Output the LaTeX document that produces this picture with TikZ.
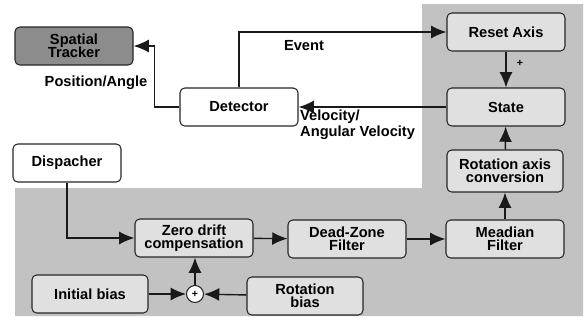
\documentclass[tikz,border=0pt]{standalone}
\usepackage{fontspec}
\setmainfont{Liberation Sans}
\usetikzlibrary{arrows.meta}
\tikzset{
  blk/.style={draw=black!85, line width=0.9pt, rounded corners=4pt, align=center,
    minimum width=118*0.03cm, minimum height=38*0.03cm, inner sep=1pt,
    font=\fontsize{12.5}{13}\selectfont\bfseries},
  onwhite/.style={blk, fill=white},
  ongray/.style={blk, fill=black!12},
  lbl/.style={font=\fontsize{12.5}{13}\selectfont\bfseries, inner sep=0pt},
  flow/.style={-{Latex[length=13pt,width=11pt]}, line width=1.2pt, draw=black!90}
}
\begin{document}
\begin{tikzpicture}[x=0.03cm, y=-0.03cm]
    \useasboundingbox (0,0) rectangle (585,324);
    \fill[black!24] (15,188) -- (422,188) -- (422,4) -- (583,4) -- (583,316) -- (15,316) -- cycle;
    \node[blk, fill=black!45] (tracker) at (74,46) {Spatial\\[-2pt]Tracker};
    \node[onwhite] (det) at (239,107) {Detector};
    \node[onwhite, minimum width=108*0.03cm] (disp) at (67,163) {Dispacher};
    \node[ongray] (reset) at (506,32) {Reset Axis};
    \node[ongray] (state) at (506,107) {State};
    \node[ongray, minimum width=116*0.03cm, minimum height=42*0.03cm] (rot) at (505,171) {Rotation axis\\[-2pt]conversion};
    \node[ongray] (med) at (505,239) {Meadian\\[-2pt]Filter};
    \node[ongray] (dead) at (347,239) {Dead-Zone\\[-2pt]Filter};
    \node[ongray] (zero) at (194,238) {Zero drift\\[-2pt]compensation};
    \node[ongray, minimum width=116*0.03cm] (init) at (90,294) {Initial bias};
    \node[ongray, minimum width=116*0.03cm] (rbias) at (305,296) {Rotation\\[-2pt]bias};
    \node[circle, draw=black!85, line width=0.9pt, fill=white, minimum size=17*0.03cm, inner sep=0pt,
      font=\bfseries\small] (sum) at (195,294) {+};
    \draw[flow] (det.north) |- (reset.west);
    \draw[flow] (det.west) -- ++(-25,0) |- (tracker.east);
    \draw[flow] (state.west) -- (det.east);
    \draw[flow] (reset) -- (state);
    \draw[flow] (rot) -- (state);
    \draw[flow] (med) -- (rot);
    \draw[flow] (dead) -- (med);
    \draw[flow] (zero) -- (dead);
    \draw[flow] (disp.south) |- (zero.west);
    \draw[flow] (init) -- (sum);
    \draw[flow] (rbias) -- (sum);
    \draw[flow] (sum) -- (sum |- zero.south);
    \node[lbl] (event) at (304,46) {Event};
    \node[lbl] (posang) at (96,83) {Position/Angle};
    \node[lbl, anchor=north west, align=left] (vel) at (300,110) {Velocity/\\Angular Velocity};
    \node[lbl, font=\bfseries\small] (plus) at (520,63) {+};
\end{tikzpicture}
\end{document}
